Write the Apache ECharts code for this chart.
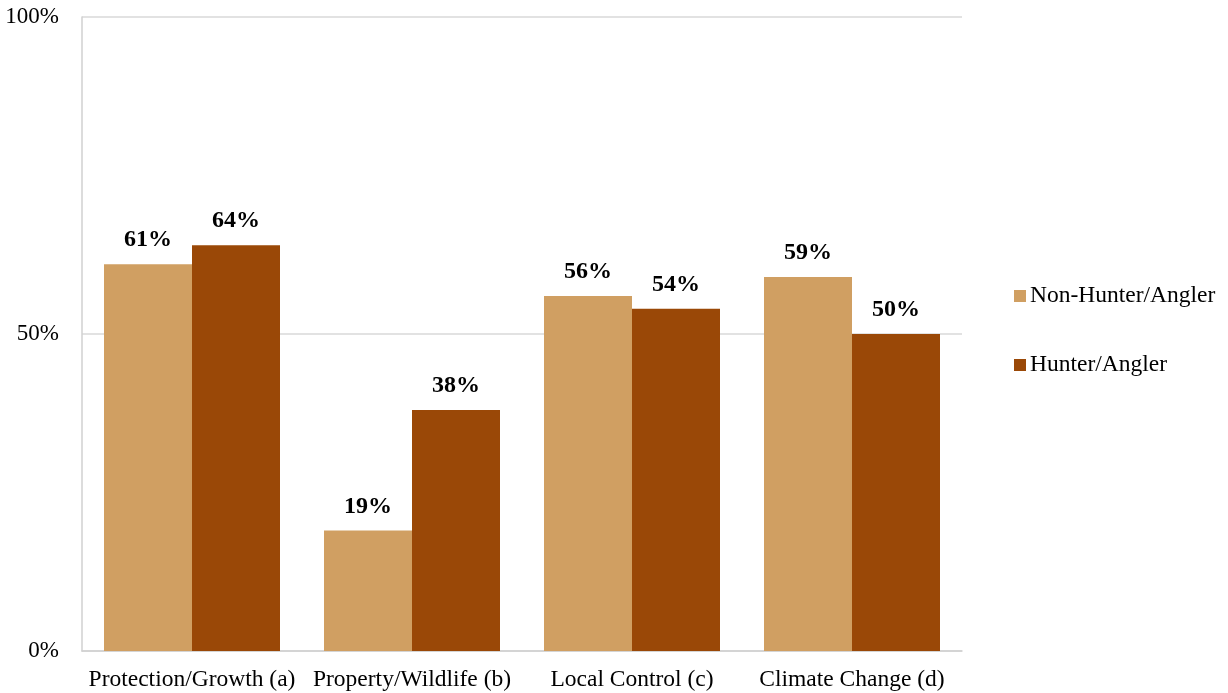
<!DOCTYPE html>
<html>
<head>
<meta charset="utf-8">
<script src="https://cdn.jsdelivr.net/npm/echarts@6/dist/echarts.min.js"></script>
<style>
  html, body { margin: 0; padding: 0; background: #fff; }
  #chart { width: 1228px; height: 693px; }
</style>
</head>
<body>
<div id="chart"></div>
<script>
// Survey share by issue, grouped by respondent type
const categories = ['Protection/Growth (a)', 'Property/Wildlife (b)', 'Local Control (c)', 'Climate Change (d)'];
const nonHunter = [61, 19, 56, 59];
const hunter = [64, 38, 54, 50];
const seriesNames = ['Non-Hunter/Angler', 'Hunter/Angler'];
const colors = ['#D09F62', '#9A4807'];

const font = 'Liberation Serif, Times New Roman, serif';

const chart = echarts.init(document.getElementById('chart'));

function barSeries(name, data, color) {
  return {
    name: name,
    type: 'bar',
    data: data,
    barGap: '0%',
    barCategoryGap: '20%',
    itemStyle: { color: color },
    label: {
      show: true,
      position: 'top',
      distance: 12,
      formatter: '{c}%',
      fontFamily: font,
      fontWeight: 'bold',
      fontSize: 24,
      color: '#000'
    }
  };
}

chart.setOption({
  animation: false,
  textStyle: { fontFamily: font },
  grid: { left: 82, right: 266, top: 17, bottom: 42 },
  legend: {
    orient: 'vertical',
    left: 1009,
    top: 279,
    itemGap: 45,
    itemWidth: 12,
    itemHeight: 12,
    icon: 'rect',
    textStyle: { fontFamily: font, fontSize: 23.5, color: '#000', padding: [0, 0, 0, -1] },
    data: seriesNames
  },
  xAxis: {
    type: 'category',
    data: categories,
    axisLine: { show: true, lineStyle: { color: '#d0d0d0', width: 1.5 } },
    axisTick: { show: false },
    axisLabel: { fontFamily: font, fontSize: 23.5, color: '#000', margin: 17, interval: 0 }
  },
  yAxis: {
    type: 'value',
    min: 0,
    max: 100,
    interval: 50,
    axisLine: { show: true, lineStyle: { color: '#d0d0d0', width: 1.5 } },
    axisTick: { show: false },
    axisLabel: { fontFamily: font, fontSize: 23, color: '#000', margin: 23, formatter: '{value}%' },
    splitLine: { show: true, lineStyle: { color: '#d9d9d9', width: 1.5 } }
  },
  series: [
    barSeries(seriesNames[0], nonHunter, colors[0]),
    barSeries(seriesNames[1], hunter, colors[1])
  ]
});
</script>
</body>
</html>
